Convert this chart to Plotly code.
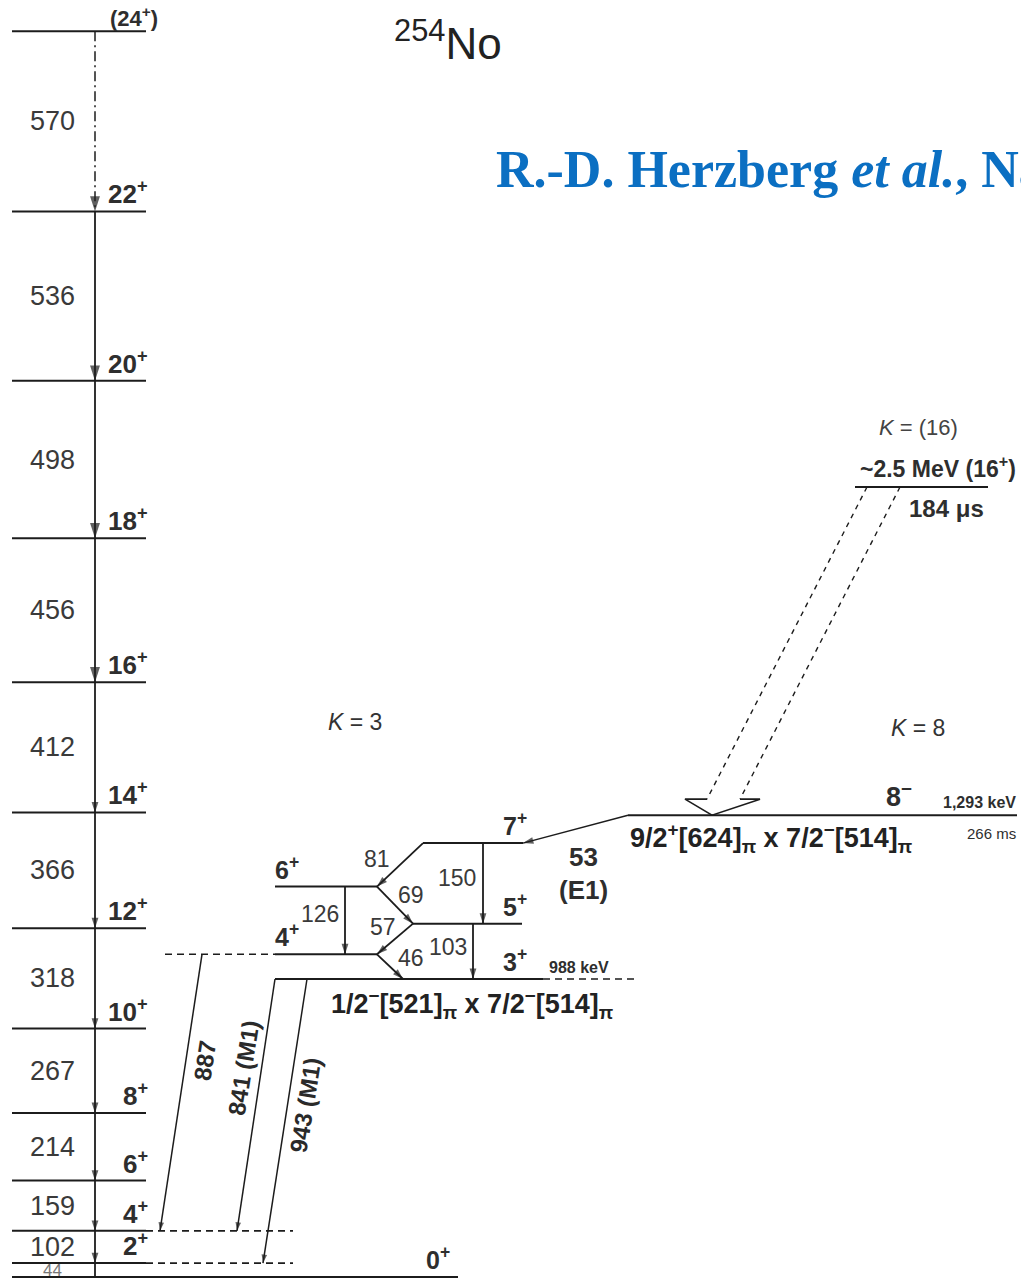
import numpy as np
import plotly.graph_objects as go

# ------------------------------------------------------------------
# 254No level scheme — data (energies in keV)
# ------------------------------------------------------------------
gsb_spins = [0, 2, 4, 6, 8, 10, 12, 14, 16, 18, 20, 22, 24]
gsb_gammas = [44, 102, 159, 214, 267, 318, 366, 412, 456, 498, 536, 570]  # I -> I-2

k3_spins = [3, 4, 5, 6, 7]
k3_energies = [988, 1034, 1091, 1160, 1241]
k3_gamma_from = [4, 5, 6, 7, 5, 6, 7]
k3_gamma_to = [3, 4, 5, 6, 3, 4, 5]
k3_gammas = [46, 57, 69, 81, 103, 126, 150]

inter_from = [4, 3, 3]          # K = 3 band spin
inter_to = [4, 4, 2]            # ground band spin
inter_gammas = [887, 841, 943]
inter_mult = ["", "(M1)", "(M1)"]

iso8_energy = 1293
iso8_halflife = "266 ms"
iso8_gamma = 53
iso8_mult = "(E1)"

iso16_energy = 2500
iso16_halflife = "184 μs"

# ------------------------------------------------------------------
# drawing set-up
# ------------------------------------------------------------------
W, H = 1021, 1279
PX_PER_KEV = 0.316          # vertical scale of the ground band
Y_ZERO_PX = 1277            # pixel row of the 0+ ground state
Y_RANGE = [(Y_ZERO_PX - H) / PX_PER_KEV, Y_ZERO_PX / PX_PER_KEV]

# the K=3 / K=8 structure is drawn on an expanded energy scale
K3_BASE, K3_STRETCH = 943.0, 1.7

INK = "#1c1c1c"
TXT = "#2e2e2e"
SANS = "Liberation Sans, Arial, Helvetica, sans-serif"
SERIF = "Liberation Serif, Times New Roman, serif"

gsb_levels = np.concatenate([[0], np.cumsum(gsb_gammas)])
gsb_E = dict(zip(gsb_spins, gsb_levels))


def k3_draw(e):
    return K3_BASE + K3_STRETCH * (e - k3_energies[0])


k3_E = {s: k3_draw(e) for s, e in zip(k3_spins, k3_energies)}
iso8_y = k3_draw(iso8_energy)
iso16_y = iso16_energy


def kev(px):
    """Convert a pixel offset into axis units."""
    return px / PX_PER_KEV


fig = go.Figure()


def seg(x, y, width=2.0, dash="solid"):
    fig.add_trace(go.Scatter(x=x, y=y, mode="lines",
                             line=dict(color=INK, width=width, dash=dash),
                             hoverinfo="skip", showlegend=False))


def arrow(x, y, heads, width=1.5, dash="solid"):
    fig.add_trace(go.Scatter(x=x, y=y, mode="lines+markers",
                             line=dict(color=INK, width=width, dash=dash, backoff=0),
                             marker=dict(symbol="arrow", size=heads, angleref="previous",
                                         color=INK, line=dict(width=0)),
                             hoverinfo="skip", showlegend=False))


annotations = []


def label(x, y, text, size, xanchor="center", yanchor="middle", xshift=0, yshift=0,
          color=TXT, angle=0, family=SANS, ref="data"):
    if ref == "paper":
        x, y, xr, yr = x / W, 1 - y / H, "paper", "paper"
    else:
        xr, yr = "x", "y"
    annotations.append(dict(x=x, y=y, xref=xr, yref=yr, text=text, showarrow=False,
                            xanchor=xanchor, yanchor=yanchor, xshift=xshift, yshift=yshift,
                            textangle=angle, font=dict(size=size, color=color, family=family)))


# ------------------------------------------------------------------
# ground-state band
# ------------------------------------------------------------------
GSB_X0, GSB_X1, GSB_GX = 12, 146, 95
for s in gsb_spins:
    x1 = 458 if s == 0 else GSB_X1
    seg([GSB_X0, x1], [gsb_E[s], gsb_E[s]])
# dashed continuations of the 4+ and 2+ levels for the interband feeding
for s in (4, 2):
    seg([GSB_X1, 293], [gsb_E[s], gsb_E[s]], width=1.6, dash="7px,5px")

# tentative top transition
arrow([GSB_GX, GSB_GX], [gsb_E[24], gsb_E[22]], [0, 16], dash="10px,4px,2px,4px")
# cascade 22+ -> 0+
cascade = sorted([s for s in gsb_spins if s <= 22], reverse=True)
heads = [0] + [16 if s >= 16 else 11 for s in cascade[1:-1]] + [0]
arrow([GSB_GX] * len(cascade), [gsb_E[s] for s in cascade], heads, width=1.8)

for i, g in enumerate(gsb_gammas):
    lo, hi = gsb_levels[i], gsb_levels[i + 1]
    size = 17 if g < 60 else 27
    label(52, (lo + hi) / 2, str(g), size, color="#3a3a3a" if g > 60 else "#777")

for s in gsb_spins:
    if s == 0:
        label(452, gsb_E[s], "<b>0<sup>+</sup></b>", 25, xanchor="right",
              yanchor="bottom", yshift=1)
    elif s == 24:
        label(160, gsb_E[s], "<b>(24<sup>+</sup>)</b>", 22, xanchor="right",
              yanchor="bottom", yshift=-2)
    else:
        label(150, gsb_E[s], f"<b>{s}<sup>+</sup></b>", 26, xanchor="right",
              yanchor="bottom", yshift=0)

# ------------------------------------------------------------------
# K = 3 band
# ------------------------------------------------------------------
k3_span = {3: (275, 543), 4: (275, 377), 5: (413, 522), 6: (275, 377), 7: (423, 523)}
for s in k3_spins:
    x0, x1 = k3_span[s]
    seg([x0, x1], [k3_E[s], k3_E[s]])
seg([543, 637], [k3_E[3], k3_E[3]], width=1.6, dash="7px,5px")
seg([165, 275], [k3_E[4], k3_E[4]], width=1.6, dash="7px,5px")

# in-band transitions: (x start, x end, label dx, label dy) in pixels
k3_geom = {46: (377, 403, 21, -9), 57: (413, 377, -12, -12), 69: (377, 413, 16, -10),
           81: (423, 377, -23, -6), 103: (473, 473, -25, -4), 126: (345, 345, -25, -6),
           150: (483, 483, -26, -5)}
for g, a, b in zip(k3_gammas, k3_gamma_from, k3_gamma_to):
    xa, xb, dx, dy = k3_geom[g]
    ya, yb = k3_E[a], k3_E[b]
    arrow([xa, xb], [ya, yb], [0, 11], width=1.8)
    label((xa + xb) / 2, (ya + yb) / 2, str(g), 23, xshift=dx, yshift=-dy, color="#3a3a3a")

for s in k3_spins:
    x = 273 if s in (4, 6) else 501
    label(x, k3_E[s], f"<b>{s}<sup>+</sup></b>", 25, xanchor="left", yanchor="bottom", yshift=1)

label(547, k3_E[3], "<b>988 keV</b>", 16, xanchor="left", yanchor="bottom", yshift=1)
label(472, k3_E[3],
      "<b>1/2<sup>−</sup>[521]<sub>π</sub> x 7/2<sup>−</sup>[514]<sub>π</sub></b>",
      27, yanchor="top", yshift=-4, color="#222")

# interband decays to the ground band
inter_geom = {887: (202, 160, 24, -32), 841: (275, 237, -12, -37), 943: (307, 263, 20, -16)}
for g, a, b, m in zip(inter_gammas, inter_from, inter_to, inter_mult):
    xa, xb, dx, dy = inter_geom[g]
    ya, yb = k3_E[a], gsb_E[b]
    arrow([xa, xb], [ya, yb], [0, 9], width=1.5)
    txt = f"<b>{g}{' ' + m if m else ''}</b>"
    label((xa + xb) / 2, (ya + yb) / 2, txt, 24, xshift=dx, yshift=-dy, angle=-81,
          color="#2a2a2a")

# ------------------------------------------------------------------
# K = 8 isomer and its E1 decay
# ------------------------------------------------------------------
seg([628, 1017], [iso8_y, iso8_y])
arrow([628, 523], [iso8_y, k3_E[7]], [0, 11], width=1.5)
label(583, iso8_y, f"<b>{iso8_gamma}</b>", 26, yshift=-42)
label(583, iso8_y, f"<b>{iso8_mult}</b>", 26, yshift=-75)

label(884, iso8_y, "<b>8<sup>−</sup></b>", 27, xanchor="left", yanchor="bottom", yshift=1)
label(1018, iso8_y, "<b>1,293 keV</b>", 16, xanchor="right", yanchor="bottom", yshift=2)
label(1018, iso8_y, iso8_halflife, 15, xanchor="right", yanchor="top", yshift=-8)
label(628, iso8_y,
      "<b>9/2<sup>+</sup>[624]<sub>π</sub> x 7/2<sup>−</sup>[514]<sub>π</sub></b>",
      27, xanchor="left", yanchor="top", yshift=-2, color="#222")

# ------------------------------------------------------------------
# K = 16 isomer, feeding the K = 8 isomer (unobserved, hollow arrow)
# ------------------------------------------------------------------
seg([855, 988], [iso16_y, iso16_y])
base_y = iso8_y + kev(16)
seg([867, 707], [iso16_y, base_y], width=1.4, dash="5px,5px")
seg([900, 740], [iso16_y, base_y], width=1.4, dash="5px,5px")
seg([707, 685, 712, 760, 740], [base_y, base_y, iso8_y, base_y, base_y], width=1.6)

label(1018, iso16_y, "<b>~2.5 MeV (16<sup>+</sup>)</b>", 23, xanchor="right",
      yanchor="bottom", yshift=3)
label(907, iso16_y, f"<b>{iso16_halflife}</b>", 24, xanchor="left", yanchor="top", yshift=-6)
label(918, iso16_y, "<i>K</i> = (16)", 22, yshift=60, color="#444")

# band labels, nucleus, reference
label(355, 722, "<i>K</i> = 3", 23, ref="paper", color="#333")
label(918, 728, "<i>K</i> = 8", 23, ref="paper", color="#333")
label(392, 40, "<sup>254</sup>No", 44, xanchor="left", ref="paper", color="#222")
label(494, 170, "<b>R.-D. Herzberg <i>et al.</i>, Nature</b>", 52, xanchor="left",
      ref="paper", color="#0B6FC2", family=SERIF)

fig.update_layout(
    width=W, height=H, margin=dict(l=0, r=0, t=0, b=0),
    paper_bgcolor="white", plot_bgcolor="white",
    xaxis=dict(range=[0, W], visible=False, fixedrange=True),
    yaxis=dict(range=Y_RANGE, visible=False, fixedrange=True),
    annotations=annotations, showlegend=False,
    font=dict(family=SANS),
)

fig.write_html("out.html")
